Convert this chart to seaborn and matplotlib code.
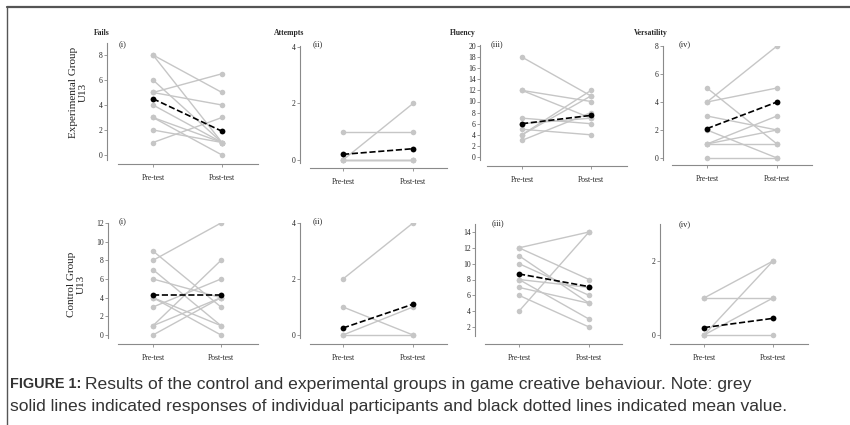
import matplotlib
matplotlib.use('Agg')
import matplotlib.pyplot as plt
import numpy as np
import pandas as pd
import seaborn as sns

# ─── Data ────────────────────────────────────────────────────
phases = ['Pre-test', 'Post-test']

# Experimental group U13
exp_fails_pre = [8, 8, 6, 5, 5, 4, 3, 3, 2, 1]
exp_fails_post = [5, 1, 1, 6.5, 4, 1, 1, 0, 1, 3]
exp_fails_mean = [4.5, 1.9]

exp_attempts_pre = [1, 0, 0, 0, 0]
exp_attempts_post = [1, 2, 0, 0, 0]
exp_attempts_mean = [0.2, 0.4]

exp_fluency_pre = [18, 12, 12, 7, 6, 5, 4, 4, 3]
exp_fluency_post = [11, 10, 7, 6, 7, 4, 12, 11, 8]
exp_fluency_mean = [6.0, 7.5]

exp_vers_pre = [4, 4, 5, 3, 2, 1, 1, 1, 0]
exp_vers_post = [8, 5, 1, 2, 0, 3, 2, 1, 0]
exp_vers_mean = [2.1, 4.0]

# Control group U13
ctrl_fails_pre = [8, 9, 7, 6, 4, 4, 3, 1, 1, 0]
ctrl_fails_post = [12, 3, 1, 4, 1, 0, 6, 8, 4, 4]
ctrl_fails_mean = [4.3, 4.3]

ctrl_attempts_pre = [2, 1, 0, 0]
ctrl_attempts_post = [4, 0, 1, 0]
ctrl_attempts_mean = [0.25, 1.1]

ctrl_fluency_pre = [12, 12, 11, 10, 8, 8, 7, 6, 4]
ctrl_fluency_post = [14, 8, 5, 6, 7, 3, 5, 2, 14]
ctrl_fluency_mean = [8.7, 7.1]

ctrl_vers_pre = [1, 1, 0, 0, 0]
ctrl_vers_post = [2, 1, 2, 1, 0]
ctrl_vers_mean = [0.2, 0.45]

panel_titles = ['Fails', 'Attempts', 'Fluency', 'Versatility']
panel_tags = ['(i)', '(ii)', '(iii)', '(iv)']
row_labels = ['Experimental Group\nU13', 'Control Group\nU13']

# ─── Style ───────────────────────────────────────────────────
sns.set_theme(style='white')
plt.rcParams['font.family'] = ['Liberation Serif', 'DejaVu Serif']

GREY = '#c6c6c6'
AXIS = '#8a8a8a'
W, H = 850, 425

fig = plt.figure(figsize=(8.5, 4.25), dpi=100)
fig.patch.set_facecolor('white')

# panel layout in pixels:
# (y-spine x, x-axis y, x-axis left, x-axis right, pre x, post x,
#  (lo value, lo px, hi value, hi px), spine top px, spine bottom px)
layout = [
    (107, 164, 118, 258, 153, 222, (0, 155, 8, 55), 43, 160),
    (300, 168, 310, 447, 343, 413, (0, 160, 4, 47), 46, 163),
    (480, 166, 487, 627, 522, 591, (0, 157, 20, 46), 45, 160),
    (663, 165, 672, 812, 707, 777, (0, 158, 8, 46), 46, 160),
    (108, 344, 118, 258, 153, 221, (0, 335, 12, 223), 223, 338),
    (300, 344, 310, 447, 343, 413, (0, 335, 4, 223), 223, 338),
    (475, 344, 485, 622, 519, 589, (2, 327, 14, 232), 224, 336),
    (660, 344, 670, 808, 704, 773, (0, 335, 2, 261), 224, 338),
]

panels = [
    (exp_fails_pre, exp_fails_post, exp_fails_mean, [0, 2, 4, 6, 8]),
    (exp_attempts_pre, exp_attempts_post, exp_attempts_mean, [0, 2, 4]),
    (exp_fluency_pre, exp_fluency_post, exp_fluency_mean, list(range(0, 21, 2))),
    (exp_vers_pre, exp_vers_post, exp_vers_mean, [0, 2, 4, 6, 8]),
    (ctrl_fails_pre, ctrl_fails_post, ctrl_fails_mean, list(range(0, 13, 2))),
    (ctrl_attempts_pre, ctrl_attempts_post, ctrl_attempts_mean, [0, 2, 4]),
    (ctrl_fluency_pre, ctrl_fluency_post, ctrl_fluency_mean, list(range(2, 15, 2))),
    (ctrl_vers_pre, ctrl_vers_post, ctrl_vers_mean, [0, 2]),
]

tag_pos = [(123, 44), (318, 44), (497, 44), (685, 44),
           (123, 221), (318, 221), (498, 223), (685, 224)]
title_pos = [(102, 33), (289, 33), (463, 33), (651, 33)]

for i, ((pre, post, mean, yticks), lay) in enumerate(zip(panels, layout)):
    yx, xy, xl, xr, px_pre, px_post, (v0, p0, v1, p1), top, sbot = lay
    ax = fig.add_axes([xl / W, 1 - xy / H, (xr - xl) / W, (xy - top) / H])

    # long-form frame: one row per participant per phase
    n = len(pre)
    df = pd.DataFrame({
        'pid': list(range(n)) * 2,
        'phase': [0] * n + [1] * n,
        'score': list(pre) + list(post),
    })
    sns.lineplot(data=df, x='phase', y='score', units='pid', estimator=None,
                 color=GREY, lw=1.0, marker='o', markersize=4.0,
                 markeredgewidth=0, ax=ax)
    sns.lineplot(x=[0, 1], y=mean, color='black', lw=1.2, linestyle='--',
                 marker='o', markersize=4.2, markeredgewidth=0, ax=ax)

    # limits from the pixel layout
    xs = px_post - px_pre
    ax.set_xlim((xl - px_pre) / xs, (xr - px_pre) / xs)
    s = (p0 - p1) / (v1 - v0)
    ylo, yhi = v0 - (xy - p0) / s, v0 + (p0 - top) / s
    ax.set_ylim(ylo, yhi)

    for side in ['top', 'right']:
        ax.spines[side].set_visible(False)
    ax.spines['left'].set_position(('outward', (xl - yx) * 0.72))
    ax.spines['left'].set_bounds(v0 - (sbot - p0) / s, yhi)
    for side in ['left', 'bottom']:
        ax.spines[side].set_color(AXIS)
        ax.spines[side].set_linewidth(0.8)

    ax.set_xticks([0, 1])
    ax.set_xticklabels(phases)
    ax.set_yticks(yticks)
    ax.tick_params(axis='y', length=2, width=0.6, color=AXIS, labelsize=5.5,
                   pad=1, left=True)
    ax.tick_params(axis='x', length=2, width=0.6, color=AXIS, labelsize=5.5,
                   pad=5, bottom=True)
    ax.set_xlabel('')
    ax.set_ylabel('')
    ax.patch.set_alpha(0)

    tx, ty = tag_pos[i]
    fig.text(tx / W, 1 - ty / H, panel_tags[i % 4], fontsize=6,
             ha='center', va='center')
    if i < 4:
        tx, ty = title_pos[i]
        fig.text(tx / W, 1 - ty / H, panel_titles[i], fontsize=5.5,
                 fontweight='bold', ha='center', va='center')

# row labels
fig.text(78 / W, 1 - 92 / H, row_labels[0], rotation=90, fontsize=8,
         ha='center', va='center', linespacing=1.1, color='#222222')
fig.text(76 / W, 1 - 284 / H, row_labels[1], rotation=90, fontsize=8,
         ha='center', va='center', linespacing=1.1, color='#222222')

# frame lines
fig.add_artist(plt.Line2D([7 / W, 1], [1 - 7 / H, 1 - 7 / H], color='#555555', lw=1.6))
fig.add_artist(plt.Line2D([7 / W, 7 / W], [0, 1 - 7 / H], color='#555555', lw=1.0))

# caption
cap_font = dict(family=['Liberation Sans', 'DejaVu Sans'], color='#333333')
fig.canvas.draw()
renderer = fig.canvas.get_renderer()
t1 = fig.text(10 / W, 1 - 384 / H, 'FIGURE 1:', fontweight='bold', fontsize=10.4,
              va='center', **cap_font)
bb = t1.get_window_extent(renderer)
fig.text((bb.x1 + 4) / W, 1 - 384 / H,
         'Results of the control and experimental groups in game creative behaviour. Note: grey',
         va='center', fontsize=12.6, **cap_font)
fig.text(10 / W, 1 - 406 / H,
         'solid lines indicated responses of individual participants and black dotted lines indicated mean value.',
         va='center', fontsize=12.6, **cap_font)

fig.savefig('out.png', dpi=100)
